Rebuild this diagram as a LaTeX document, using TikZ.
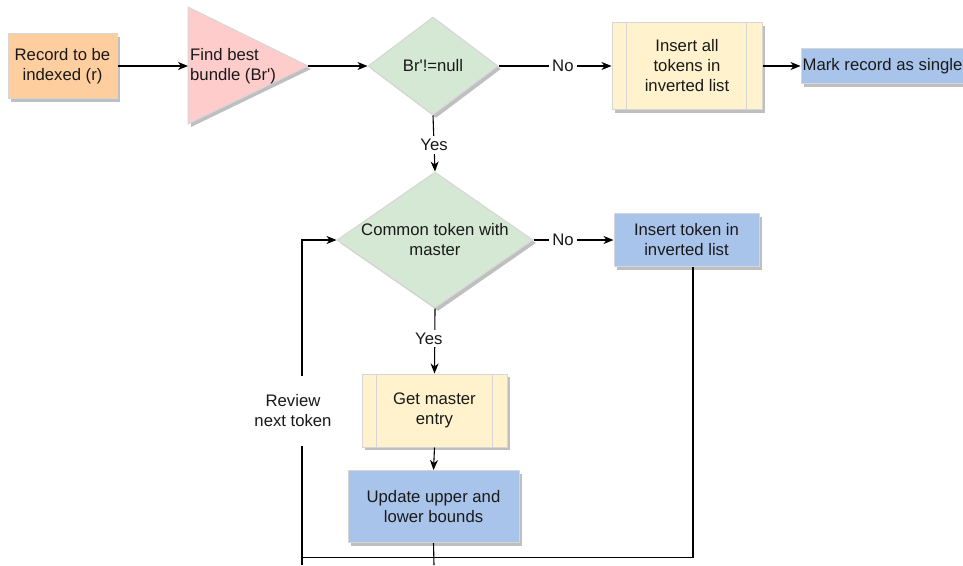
\documentclass[tikz,border=0pt]{standalone}
\usepackage{fontspec}
\setmainfont{Liberation Sans}[Ligatures=TeXOff]
\usetikzlibrary{arrows.meta,shapes.geometric,shadows}

\definecolor{orangefill}{HTML}{FFCE9F}
\definecolor{pinkfill}{HTML}{FFCCCC}
\definecolor{greenfill}{HTML}{D5E8D4}
\definecolor{yellowfill}{HTML}{FFF2CC}
\definecolor{bluefill}{HTML}{A9C4EB}
\definecolor{edgegray}{HTML}{D6D6D6}
\definecolor{shadowgray}{HTML}{BFBFBF}

\begin{document}
\begin{tikzpicture}[x=1pt,y=-1pt,
  every node/.style={font=\fontsize{16.7}{20}\selectfont, text=black!90},
  shape base/.style={draw=edgegray, line width=1pt,
    drop shadow={shadow xshift=3pt, shadow yshift=-3pt, fill=shadowgray, opacity=1}},
  box/.style={shape base, rectangle, inner sep=0pt, align=center},
  decision/.style={shape base, diamond, inner sep=0pt, fill=greenfill},
  caption/.style={inner sep=0pt, align=center},
  flow/.style={line width=1.1pt, -{Stealth[length=10pt, width=8pt, inset=3pt]}},
  plain/.style={line width=1.1pt},
  edgelbl/.style={fill=white, inner sep=3pt},
]
\useasboundingbox (0,0) rectangle (963,565);
\clip (0,0) rectangle (963,565);

% --- top row -------------------------------------------------------------
\node[box, fill=orangefill, minimum width=109pt, minimum height=65pt]
  (rec) at (62.5,66) {Record to be\\indexed (r)};

\draw[shape base, fill=pinkfill]
  (188,7) -- (308,66) coordinate (tri-e) -- (188,124) -- cycle;
\coordinate (tri-w) at (188,66);
\node[caption, anchor=west, align=left] (tri-txt) at (190,66) {Find best\\bundle (Br')};

\node[decision, minimum width=130pt, minimum height=98pt] (d1) at (433,66) {};
\node[caption] (d1-txt) at (d1) {Br'!=null};

\node[box, fill=yellowfill, minimum width=150pt, minimum height=87pt]
  (ins1) at (687,66) {Insert all\\tokens in\\inverted list};
\draw[draw=edgegray, line width=1pt]
  ([xshift=15pt]ins1.north west) -- ([xshift=15pt]ins1.south west)
  ([xshift=-16pt]ins1.north east) -- ([xshift=-16pt]ins1.south east);

\node[box, fill=bluefill, minimum width=200pt, minimum height=35pt]
  (mark) at (901,66) {};
\node[caption, anchor=west] (mark-txt) at ([xshift=2pt]mark.west) {Mark record as single};

% --- token loop ----------------------------------------------------------
\node[decision, minimum width=196pt, minimum height=136pt] (d2) at (435,240) {};
\node[caption] (d2-txt) at (d2) {Common token with\\master};

\node[box, fill=bluefill, minimum width=145pt, minimum height=53pt]
  (ins2) at (686.5,240) {Insert token in\\inverted list};

\node[box, fill=yellowfill, minimum width=145pt, minimum height=73pt]
  (gme) at (434.5,410.5) {Get master\\entry};
\draw[draw=edgegray, line width=1pt]
  ([xshift=15pt]gme.north west) -- ([xshift=15pt]gme.south west)
  ([xshift=-15pt]gme.north east) -- ([xshift=-15pt]gme.south east);

\node[box, fill=bluefill, minimum width=171pt, minimum height=72pt]
  (upd) at (433.5,506.5) {Update upper and\\lower bounds};

% --- connectors ----------------------------------------------------------
\draw[flow] (rec.east) -- (tri-w);
\draw[flow] (tri-e) -- (d1.west);
\draw[flow] (d1.east) -- node[edgelbl, pos=0.57] (no1) {No} (ins1.west);
\draw[flow] (ins1.east) -- (mark.west);
\draw[flow] (d1.south) -- node[edgelbl, pos=0.53] (yes1) {Yes} (d2.north);
\draw[flow] (d2.east) -- node[edgelbl, pos=0.37] (no2) {No} (ins2.west);
\draw[flow] (d2.south) -- node[edgelbl, pos=0.46, xshift=-6pt] (yes2) {Yes} (gme.north);
\draw[flow] (gme.south) -- (upd.north);

\coordinate (bottom-mid) at (434,565);
\coordinate (bottom-left) at (302,565);
\coordinate (loop-corner) at (302,557.5);
\coordinate (ins2-tap) at ([xshift=6.5pt]ins2.south);
\draw[plain] (upd.south) -- (bottom-mid);
\draw[plain] (bottom-left) -- (loop-corner);
\draw[flow] (ins2-tap) |- (loop-corner) -- (loop-corner |- d2.west) -- (d2.west);
\node[fill=white, inner sep=0pt, minimum height=70pt, minimum width=82pt, align=center]
  (review) at (293,410.5) {Review\\next token};
\end{tikzpicture}
\end{document}
